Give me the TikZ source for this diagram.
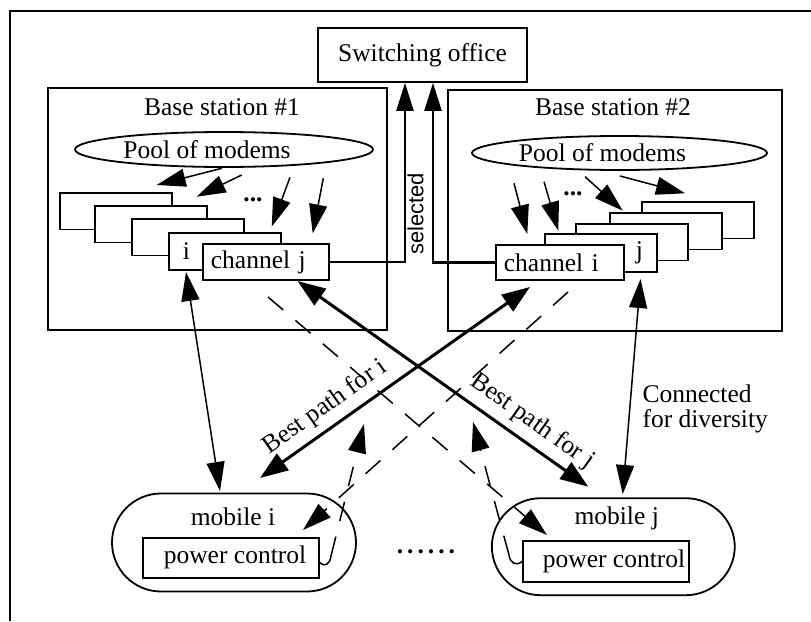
\documentclass[tikz,border=0pt]{standalone}
\usepackage{fontspec}
\setmainfont{Liberation Serif}
\setsansfont{Liberation Sans}
\usetikzlibrary{arrows.meta,shapes.geometric,calc}

\begin{document}
\begin{tikzpicture}[x=1pt,y=-1pt,
  txt/.style={font=\fontsize{25.5}{27}\selectfont},
  frame/.style={line width=1.8pt},
  box/.style={draw, line width=1.8pt, inner sep=0pt, txt},
  stackbox/.style={draw, line width=1.8pt, fill=white, inner sep=0pt,
    minimum width=112pt, minimum height=36.5pt, anchor=north west, txt},
  pool/.style={draw, ellipse, line width=1.8pt, inner sep=0pt,
    minimum width=298pt, minimum height=35pt, txt},
  mobilebox/.style={draw, rectangle, rounded corners=49pt, line width=1.8pt,
    minimum width=244pt, minimum height=98pt, inner sep=0pt},
  tip/.style={>={Triangle[length=29pt,width=18pt]}},
  thinarrow/.style={tip, line width=1.5pt},
  thickarrow/.style={>={Triangle[length=28pt,width=20pt]}, line width=3pt},
  wire/.style={>={Triangle[length=28pt,width=17pt]}, line width=2.4pt},
  dline/.style={tip, line width=1.5pt, dash pattern=on 20pt off 16pt},
  hook/.style={line width=1.5pt},
  dotrow/.style={txt, font=\fontsize{25.5}{27}\selectfont\bfseries},
]
\useasboundingbox (0,0) rectangle (811,621);

% outer frame (only its top and left edges fall on the page)
\draw[frame] (10,621) -- (10,11) -- (811,11);

% switching office and the two base stations
\node[box, minimum width=209pt, minimum height=54pt] (sw) at (422.5,55) {Switching office};
\node[box, minimum width=339pt, minimum height=242pt] (bs1) at (217.5,209) {};
\node[box, minimum width=334pt, minimum height=241pt] (bs2) at (615,210.5) {};
\node[txt] (bs1t) at (222,107) {Base station \#1};
\node[txt] (bs2t) at (613,107) {Base station \#2};

% modem pools
\node[pool] (pool1) at (224,149.5) {Pool of modems\hspace*{34pt}};
\node[pool, minimum width=295pt, minimum height=34pt] (pool2) at (619.5,153) {Pool of modems\hspace*{34pt}};

% channel stack of base station 1 (back to front)
\node[stackbox] (s11) at (59,192) {};
\node[stackbox] (s12) at (94,205) {};
\node[stackbox] (s13) at (131,218) {};
\node[stackbox, text width=84pt, inner xsep=14pt, align=left, minimum height=37pt] (bi) at (168,232) {i};
\node[stackbox, minimum width=126pt, minimum height=36pt, text width=110pt, inner xsep=8pt, align=left] (chj) at (202,243) {channel j};

% channel stack of base station 2 (back to front)
\node[stackbox] (s21) at (641,201) {};
\node[stackbox] (s22) at (609,212) {};
\node[stackbox] (s23) at (575,223) {};
\node[stackbox, text width=84pt, inner xsep=14pt, align=right, minimum height=38pt] (bj) at (544,233) {j};
\node[stackbox, minimum width=128pt, minimum height=35pt, text width=112pt, inner xsep=8pt, align=left] (chi) at (495,244) {channel i};

% dots between the modem arrows
\node[dotrow] (dots1) at (253,200) {...};
\node[dotrow] (dots2) at (573,194) {...};

% modems handed out from the pools
\coordinate (a1s) at (221.7,168.3); \coordinate (a1e) at (156.7,185);
\coordinate (a2s) at (241.7,175);   \coordinate (a2e) at (196.7,196.7);
\coordinate (a3s) at (290,177.3);   \coordinate (a3e) at (271.7,226.7);
\coordinate (a4s) at (323.3,178.3); \coordinate (a4e) at (312.7,233.3);
\coordinate (b1s) at (514,183.3);   \coordinate (b1e) at (527.3,234);
\coordinate (b2s) at (544,181.7);   \coordinate (b2e) at (558.3,230.7);
\coordinate (b3s) at (585,176.7);   \coordinate (b3e) at (622.7,210.7);
\coordinate (b4s) at (620,176);     \coordinate (b4e) at (685,193.3);
\foreach \a in {a1,a2,a3,a4,b1,b2,b3,b4}
  \draw[thinarrow,->] (\a s) -- (\a e);

% selected paths up to the switching office
\draw[wire,->] (chj.east) -| ([xshift=-17.5pt]sw.south);
\draw[wire,->] (chi.west) -| ([xshift=10.5pt]sw.south);
\node[font=\sffamily\fontsize{22}{24}\selectfont, rotate=90] (sel) at (415.5,214) {selected};

% mobiles
\node[mobilebox] (mi) at (234,542.5) {};
\node[txt] (mit) at (233,517) {mobile i};
\node[box, minimum width=176.6pt, minimum height=40pt] (pci) at (231,557.7) {\hspace*{8pt}power control};
\node[mobilebox, minimum width=243pt, minimum height=97pt] (mj) at (613.3,546.7) {};
\node[txt] (mjt) at (616.7,518.3) {mobile j};
\node[box, minimum width=166.6pt, minimum height=40.7pt] (pcj) at (606,561.3) {\hspace*{16pt}power control};
\node[dotrow] (mdots) at (426,552) {.\kern4pt.\kern4pt.\kern4pt.\kern4pt.\kern4pt.};

% diversity links
\coordinate (li1) at (186,272);   \coordinate (li2) at (220,491);
\coordinate (lj1) at (640.5,279); \coordinate (lj2) at (622.7,494);
\draw[thinarrow,<->] (li1) -- (li2);
\draw[thinarrow,<->] (lj1) -- (lj2);
\node[txt, align=left, anchor=west] (div) at (639,409) {Connected\\[-2pt]for diversity};

% best paths
\coordinate (pj1) at (297.5,281); \coordinate (pj2) at (588.3,486.7);
\coordinate (pi1) at (260,478);   \coordinate (pi2) at (530,287);
\draw[thickarrow,<->] (pj1) -- node[txt, sloped, above, pos=0.765, inner sep=8pt] (lbj) {Best path for j} (pj2);
\draw[thickarrow,<->] (pi1) -- node[txt, sloped, above, pos=0.285, inner sep=7pt] (lbi) {Best path for i} (pi2);

% interference paths
\coordinate (d1s) at (268,297); \coordinate (d1e) at (547,535);
\coordinate (d2s) at (568,292); \coordinate (d2e) at (303,530);
\draw[dline,->] (d1s) -- (d1e);
\draw[dline,->] (d2s) -- (d2e);

% power control feedback
\coordinate (h3a) at (319.3,562); \coordinate (h3b) at (331,556); \coordinate (d3e) at (364,424);
\coordinate (h4a) at (522.7,561); \coordinate (h4b) at (509,555); \coordinate (d4e) at (473,422);
\draw[hook] (h3a) .. controls (325,568) and (330,564) .. (h3b);
\draw[dline,->] (h3b) -- (d3e);
\draw[hook] (h4a) .. controls (516,567) and (510,563) .. (h4b);
\draw[dline,->] (h4b) -- (d4e);
\end{tikzpicture}
\end{document}
